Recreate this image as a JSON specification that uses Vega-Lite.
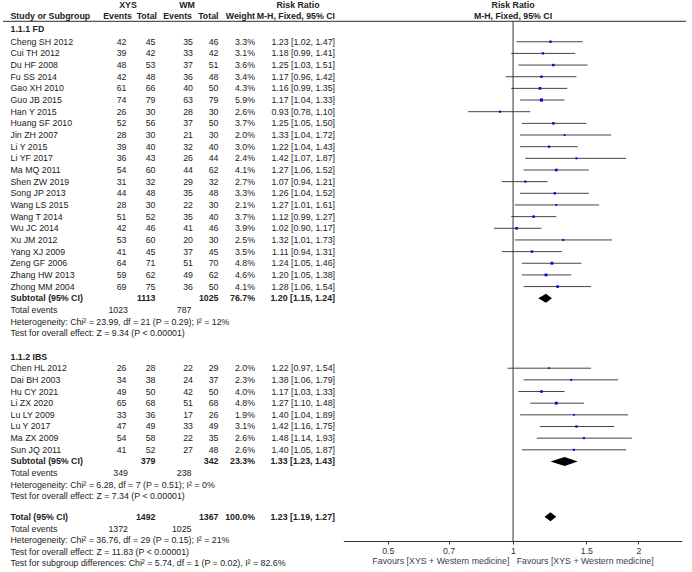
{
  "$schema": "https://vega.github.io/schema/vega-lite/v6.json",
  "width": 692,
  "height": 572,
  "autosize": {"type": "none"},
  "padding": 0,
  "background": "white",
  "config": {
    "view": {"stroke": null},
    "text": {"font": "Liberation Sans", "fontSize": 8.8, "color": "#222", "baseline": "middle"}
  },
  "datasets": {
    "studies": [
      {"s": "Cheng SH 2012", "row": 0, "e1": 42, "n1": 45, "e2": 35, "n2": 46, "w": 0.033, "rr": 1.23, "lo": 1.02, "hi": 1.47, "ci": "1.23 [1.02, 1.47]"},
      {"s": "Cui TH 2012", "row": 1, "e1": 39, "n1": 42, "e2": 33, "n2": 42, "w": 0.031, "rr": 1.18, "lo": 0.99, "hi": 1.41, "ci": "1.18 [0.99, 1.41]"},
      {"s": "Du HF 2008", "row": 2, "e1": 48, "n1": 53, "e2": 37, "n2": 51, "w": 0.036, "rr": 1.25, "lo": 1.03, "hi": 1.51, "ci": "1.25 [1.03, 1.51]"},
      {"s": "Fu SS 2014", "row": 3, "e1": 42, "n1": 48, "e2": 36, "n2": 48, "w": 0.034, "rr": 1.17, "lo": 0.96, "hi": 1.42, "ci": "1.17 [0.96, 1.42]"},
      {"s": "Gao XH 2010", "row": 4, "e1": 61, "n1": 66, "e2": 40, "n2": 50, "w": 0.043, "rr": 1.16, "lo": 0.99, "hi": 1.35, "ci": "1.16 [0.99, 1.35]"},
      {"s": "Guo JB 2015", "row": 5, "e1": 74, "n1": 79, "e2": 63, "n2": 79, "w": 0.059, "rr": 1.17, "lo": 1.04, "hi": 1.33, "ci": "1.17 [1.04, 1.33]"},
      {"s": "Han Y 2015", "row": 6, "e1": 26, "n1": 30, "e2": 28, "n2": 30, "w": 0.026, "rr": 0.93, "lo": 0.78, "hi": 1.10, "ci": "0.93 [0.78, 1.10]"},
      {"s": "Huang SF 2010", "row": 7, "e1": 52, "n1": 56, "e2": 37, "n2": 50, "w": 0.037, "rr": 1.25, "lo": 1.05, "hi": 1.50, "ci": "1.25 [1.05, 1.50]"},
      {"s": "Jin ZH 2007", "row": 8, "e1": 28, "n1": 30, "e2": 21, "n2": 30, "w": 0.020, "rr": 1.33, "lo": 1.04, "hi": 1.72, "ci": "1.33 [1.04, 1.72]"},
      {"s": "Li Y 2015", "row": 9, "e1": 39, "n1": 40, "e2": 32, "n2": 40, "w": 0.030, "rr": 1.22, "lo": 1.04, "hi": 1.43, "ci": "1.22 [1.04, 1.43]"},
      {"s": "Li YF 2017", "row": 10, "e1": 36, "n1": 43, "e2": 26, "n2": 44, "w": 0.024, "rr": 1.42, "lo": 1.07, "hi": 1.87, "ci": "1.42 [1.07, 1.87]"},
      {"s": "Ma MQ 2011", "row": 11, "e1": 54, "n1": 60, "e2": 44, "n2": 62, "w": 0.041, "rr": 1.27, "lo": 1.06, "hi": 1.52, "ci": "1.27 [1.06, 1.52]"},
      {"s": "Shen ZW 2019", "row": 12, "e1": 31, "n1": 32, "e2": 29, "n2": 32, "w": 0.027, "rr": 1.07, "lo": 0.94, "hi": 1.21, "ci": "1.07 [0.94, 1.21]"},
      {"s": "Song JP 2013", "row": 13, "e1": 44, "n1": 48, "e2": 35, "n2": 48, "w": 0.033, "rr": 1.26, "lo": 1.04, "hi": 1.52, "ci": "1.26 [1.04, 1.52]"},
      {"s": "Wang LS 2015", "row": 14, "e1": 28, "n1": 30, "e2": 22, "n2": 30, "w": 0.021, "rr": 1.27, "lo": 1.01, "hi": 1.61, "ci": "1.27 [1.01, 1.61]"},
      {"s": "Wang T 2014", "row": 15, "e1": 51, "n1": 52, "e2": 35, "n2": 40, "w": 0.037, "rr": 1.12, "lo": 0.99, "hi": 1.27, "ci": "1.12 [0.99, 1.27]"},
      {"s": "Wu JC 2014", "row": 16, "e1": 42, "n1": 46, "e2": 41, "n2": 46, "w": 0.039, "rr": 1.02, "lo": 0.90, "hi": 1.17, "ci": "1.02 [0.90, 1.17]"},
      {"s": "Xu JM 2012", "row": 17, "e1": 53, "n1": 60, "e2": 20, "n2": 30, "w": 0.025, "rr": 1.32, "lo": 1.01, "hi": 1.73, "ci": "1.32 [1.01, 1.73]"},
      {"s": "Yang XJ 2009", "row": 18, "e1": 41, "n1": 45, "e2": 37, "n2": 45, "w": 0.035, "rr": 1.11, "lo": 0.94, "hi": 1.31, "ci": "1.11 [0.94, 1.31]"},
      {"s": "Zeng GF 2006", "row": 19, "e1": 64, "n1": 71, "e2": 51, "n2": 70, "w": 0.048, "rr": 1.24, "lo": 1.05, "hi": 1.46, "ci": "1.24 [1.05, 1.46]"},
      {"s": "Zhang HW 2013", "row": 20, "e1": 59, "n1": 62, "e2": 49, "n2": 62, "w": 0.046, "rr": 1.20, "lo": 1.05, "hi": 1.38, "ci": "1.20 [1.05, 1.38]"},
      {"s": "Zhong MM 2004", "row": 21, "e1": 69, "n1": 75, "e2": 36, "n2": 50, "w": 0.041, "rr": 1.28, "lo": 1.06, "hi": 1.54, "ci": "1.28 [1.06, 1.54]"},
      {"s": "Chen HL 2012", "row": 28, "e1": 26, "n1": 28, "e2": 22, "n2": 29, "w": 0.020, "rr": 1.22, "lo": 0.97, "hi": 1.54, "ci": "1.22 [0.97, 1.54]"},
      {"s": "Dai BH 2003", "row": 29, "e1": 34, "n1": 38, "e2": 24, "n2": 37, "w": 0.023, "rr": 1.38, "lo": 1.06, "hi": 1.79, "ci": "1.38 [1.06, 1.79]"},
      {"s": "Hu CY 2021", "row": 30, "e1": 49, "n1": 50, "e2": 42, "n2": 50, "w": 0.040, "rr": 1.17, "lo": 1.03, "hi": 1.33, "ci": "1.17 [1.03, 1.33]"},
      {"s": "Li ZX 2020", "row": 31, "e1": 65, "n1": 68, "e2": 51, "n2": 68, "w": 0.048, "rr": 1.27, "lo": 1.10, "hi": 1.48, "ci": "1.27 [1.10, 1.48]"},
      {"s": "Lu LY 2009", "row": 32, "e1": 33, "n1": 36, "e2": 17, "n2": 26, "w": 0.019, "rr": 1.40, "lo": 1.04, "hi": 1.89, "ci": "1.40 [1.04, 1.89]"},
      {"s": "Lu Y 2017", "row": 33, "e1": 47, "n1": 49, "e2": 33, "n2": 49, "w": 0.031, "rr": 1.42, "lo": 1.16, "hi": 1.75, "ci": "1.42 [1.16, 1.75]"},
      {"s": "Ma ZX 2009", "row": 34, "e1": 54, "n1": 58, "e2": 22, "n2": 35, "w": 0.026, "rr": 1.48, "lo": 1.14, "hi": 1.93, "ci": "1.48 [1.14, 1.93]"},
      {"s": "Sun JQ 2011", "row": 35, "e1": 41, "n1": 52, "e2": 27, "n2": 48, "w": 0.026, "rr": 1.40, "lo": 1.05, "hi": 1.87, "ci": "1.40 [1.05, 1.87]"}
    ],
    "summary": [
      {"s": "Subtotal (95% CI)", "row": 22, "n1": 1113, "n2": 1025, "w": 0.767, "rr": 1.20, "lo": 1.15, "hi": 1.24, "ci": "1.20 [1.15, 1.24]"},
      {"s": "Subtotal (95% CI)", "row": 36, "n1": 379, "n2": 342, "w": 0.233, "rr": 1.33, "lo": 1.23, "hi": 1.43, "ci": "1.33 [1.23, 1.43]"},
      {"s": "Total (95% CI)", "row": 40.75, "n1": 1492, "n2": 1367, "w": 1.0, "rr": 1.23, "lo": 1.19, "hi": 1.27, "ci": "1.23 [1.19, 1.27]"}
    ],
    "events": [
      {"row": 23, "e1": 1023, "e2": 787},
      {"row": 37, "e1": 349, "e2": 238},
      {"row": 41.75, "e1": 1372, "e2": 1025}
    ],
    "notes": [
      {"row": -1.05, "kind": "heading", "t": "1.1.1 FD"},
      {"row": 23, "kind": "note", "t": "Total events"},
      {"row": 24, "kind": "note", "t": "Heterogeneity: Chi² = 23.99, df = 21 (P = 0.29); I² = 12%"},
      {"row": 25, "kind": "note", "t": "Test for overall effect: Z = 9.34 (P < 0.00001)"},
      {"row": 27, "kind": "heading", "t": "1.1.2 IBS"},
      {"row": 37, "kind": "note", "t": "Total events"},
      {"row": 38, "kind": "note", "t": "Heterogeneity: Chi² = 6.28, df = 7 (P = 0.51); I² = 0%"},
      {"row": 39, "kind": "note", "t": "Test for overall effect: Z = 7.34 (P < 0.00001)"},
      {"row": 41.75, "kind": "note", "t": "Total events"},
      {"row": 42.75, "kind": "note", "t": "Heterogeneity: Chi² = 36.76, df = 29 (P = 0.15); I² = 21%"},
      {"row": 43.75, "kind": "note", "t": "Test for overall effect: Z = 11.83 (P < 0.00001)"},
      {"row": 44.75, "kind": "note", "t": "Test for subgroup differences: Chi² = 5.74, df = 1 (P = 0.02), I² = 82.6%"}
    ]
  },
  "encoding": {
    "y": {"field": "row", "type": "quantitative", "scale": {"domain": [-3.58, 45.48], "reverse": true, "nice": false, "zero": false}, "axis": null}
  },
  "layer": [
    {
      "data": {"values": [{"row": -1.75}]},
      "mark": {"type": "rule", "color": "#555", "strokeWidth": 1.2},
      "encoding": {"x": {"value": 3}, "x2": {"value": 686}}
    },
    {
      "data": {"name": "studies"},
      "mark": {"type": "rule", "color": "#444", "strokeWidth": 1},
      "encoding": {
        "x": {"field": "lo", "type": "quantitative", "scale": {"type": "log", "domain": [0.391, 2.542], "range": [343.3, 681.7], "nice": false},
          "axis": {"values": [0.5, 0.7, 1, 1.5, 2], "format": "~g", "grid": false, "offset": -31, "ticks": true, "tickSize": 3, "tickWidth": 1, "tickColor": "#333", "domain": true, "domainWidth": 1, "domainColor": "#333", "labelFont": "Liberation Sans", "labelFontSize": 8.8, "labelColor": "#333", "labelPadding": 2, "labelFlush": false, "labelOverlap": false, "titleFont": "Liberation Sans", "titleFontSize": 8.8, "titleFontWeight": "normal", "titleColor": "#3c3c50", "titlePadding": 2,
            "title": "Favours [XYS + Western medicine]\u00a0\u00a0\u00a0Favours [XYS + Western medicine]"}},
        "x2": {"field": "hi"}
      }
    },
    {
      "data": {"values": [{"row": -1.75, "end": 42.82}]},
      "mark": {"type": "rule", "color": "#333", "strokeWidth": 1},
      "encoding": {
        "x": {"datum": 1, "type": "quantitative", "scale": {"type": "log", "domain": [0.391, 2.542], "range": [343.3, 681.7], "nice": false},
          "axis": {"values": [0.5, 0.7, 1, 1.5, 2], "format": "~g", "grid": false, "offset": -31, "ticks": true, "tickSize": 3, "tickWidth": 1, "tickColor": "#333", "domain": true, "domainWidth": 1, "domainColor": "#333", "labelFont": "Liberation Sans", "labelFontSize": 8.8, "labelColor": "#333", "labelPadding": 2, "labelFlush": false, "labelOverlap": false, "titleFont": "Liberation Sans", "titleFontSize": 8.8, "titleFontWeight": "normal", "titleColor": "#3c3c50", "titlePadding": 2,
            "title": "Favours [XYS + Western medicine]\u00a0\u00a0\u00a0Favours [XYS + Western medicine]"}},
        "y2": {"field": "end"}
      }
    },
    {
      "data": {"name": "studies"},
      "mark": {"type": "square", "color": "#0000ee", "opacity": 1},
      "encoding": {
        "x": {"field": "rr", "type": "quantitative", "scale": {"type": "log", "domain": [0.391, 2.542], "range": [343.3, 681.7], "nice": false},
          "axis": {"values": [0.5, 0.7, 1, 1.5, 2], "format": "~g", "grid": false, "offset": -31, "ticks": true, "tickSize": 3, "tickWidth": 1, "tickColor": "#333", "domain": true, "domainWidth": 1, "domainColor": "#333", "labelFont": "Liberation Sans", "labelFontSize": 8.8, "labelColor": "#333", "labelPadding": 2, "labelFlush": false, "labelOverlap": false, "titleFont": "Liberation Sans", "titleFontSize": 8.8, "titleFontWeight": "normal", "titleColor": "#3c3c50", "titlePadding": 2,
            "title": "Favours [XYS + Western medicine]\u00a0\u00a0\u00a0Favours [XYS + Western medicine]"}},
        "size": {"field": "w", "type": "quantitative", "scale": {"domain": [0, 0.06], "range": [0, 10]}, "legend": null}
      }
    },
    {
      "data": {"name": "summary"},
      "transform": [{"fold": ["lo", "rr", "hi"], "as": ["k", "v"]}],
      "mark": {"type": "area", "color": "#000", "yOffset": {"expr": "datum.k === 'rr' ? -4.5 : 0"}, "y2Offset": {"expr": "datum.k === 'rr' ? 4.5 : 0"}},
      "encoding": {
        "x": {"field": "v", "type": "quantitative", "scale": {"type": "log", "domain": [0.391, 2.542], "range": [343.3, 681.7], "nice": false},
          "axis": {"values": [0.5, 0.7, 1, 1.5, 2], "format": "~g", "grid": false, "offset": -31, "ticks": true, "tickSize": 3, "tickWidth": 1, "tickColor": "#333", "domain": true, "domainWidth": 1, "domainColor": "#333", "labelFont": "Liberation Sans", "labelFontSize": 8.8, "labelColor": "#333", "labelPadding": 2, "labelFlush": false, "labelOverlap": false, "titleFont": "Liberation Sans", "titleFontSize": 8.8, "titleFontWeight": "normal", "titleColor": "#3c3c50", "titlePadding": 2,
            "title": "Favours [XYS + Western medicine]\u00a0\u00a0\u00a0Favours [XYS + Western medicine]"}},
        "y2": {"field": "row"},
        "detail": {"field": "row", "type": "nominal"}
      }
    },
    {
      "data": {"values": [{"row": -3.15, "t": "XYS"}]},
      "mark": {"type": "text", "fontWeight": "bold", "align": "center"},
      "encoding": {"x": {"value": 128}, "text": {"field": "t"}}
    },
    {
      "data": {"values": [{"row": -3.15, "t": "WM"}]},
      "mark": {"type": "text", "fontWeight": "bold", "align": "center"},
      "encoding": {"x": {"value": 187}, "text": {"field": "t"}}
    },
    {
      "data": {"values": [{"row": -3.15, "t": "Risk Ratio"}]},
      "mark": {"type": "text", "fontWeight": "bold", "align": "center"},
      "encoding": {"x": {"value": 298}, "text": {"field": "t"}}
    },
    {
      "data": {"values": [{"row": -3.15, "t": "Risk Ratio"}, {"row": -2.2, "t": "M-H, Fixed, 95% CI"}]},
      "mark": {"type": "text", "fontWeight": "bold", "align": "center"},
      "encoding": {
        "x": {"datum": 1, "type": "quantitative", "scale": {"type": "log", "domain": [0.391, 2.542], "range": [343.3, 681.7], "nice": false},
          "axis": {"values": [0.5, 0.7, 1, 1.5, 2], "format": "~g", "grid": false, "offset": -31, "ticks": true, "tickSize": 3, "tickWidth": 1, "tickColor": "#333", "domain": true, "domainWidth": 1, "domainColor": "#333", "labelFont": "Liberation Sans", "labelFontSize": 8.8, "labelColor": "#333", "labelPadding": 2, "labelFlush": false, "labelOverlap": false, "titleFont": "Liberation Sans", "titleFontSize": 8.8, "titleFontWeight": "normal", "titleColor": "#3c3c50", "titlePadding": 2,
            "title": "Favours [XYS + Western medicine]\u00a0\u00a0\u00a0Favours [XYS + Western medicine]"}},
        "text": {"field": "t"}
      }
    },
    {
      "data": {"values": [{"row": -2.2, "t": "Study or Subgroup"}]},
      "mark": {"type": "text", "fontWeight": "bold", "align": "left"},
      "encoding": {"x": {"value": 10.5}, "text": {"field": "t"}}
    },
    {
      "data": {"values": [{"row": -2.2, "t": "Events"}]},
      "mark": {"type": "text", "fontWeight": "bold", "align": "right"},
      "encoding": {"x": {"value": 132}, "text": {"field": "t"}}
    },
    {
      "data": {"values": [{"row": -2.2, "t": "Total"}]},
      "mark": {"type": "text", "fontWeight": "bold", "align": "right"},
      "encoding": {"x": {"value": 157}, "text": {"field": "t"}}
    },
    {
      "data": {"values": [{"row": -2.2, "t": "Events"}]},
      "mark": {"type": "text", "fontWeight": "bold", "align": "right"},
      "encoding": {"x": {"value": 192}, "text": {"field": "t"}}
    },
    {
      "data": {"values": [{"row": -2.2, "t": "Total"}]},
      "mark": {"type": "text", "fontWeight": "bold", "align": "right"},
      "encoding": {"x": {"value": 218.5}, "text": {"field": "t"}}
    },
    {
      "data": {"values": [{"row": -2.2, "t": "Weight"}]},
      "mark": {"type": "text", "fontWeight": "bold", "align": "right"},
      "encoding": {"x": {"value": 255}, "text": {"field": "t"}}
    },
    {
      "data": {"values": [{"row": -2.2, "t": "M-H, Fixed, 95% CI"}]},
      "mark": {"type": "text", "fontWeight": "bold", "align": "right"},
      "encoding": {"x": {"value": 335}, "text": {"field": "t"}}
    },
    {
      "data": {"name": "studies"},
      "mark": {"type": "text", "align": "left"},
      "encoding": {"x": {"value": 10.5}, "text": {"field": "s"}}
    },
    {
      "data": {"name": "studies"},
      "mark": {"type": "text", "align": "right"},
      "encoding": {"x": {"value": 126.5}, "text": {"field": "e1"}}
    },
    {
      "data": {"name": "studies"},
      "mark": {"type": "text", "align": "right"},
      "encoding": {"x": {"value": 155.5}, "text": {"field": "n1"}}
    },
    {
      "data": {"name": "studies"},
      "mark": {"type": "text", "align": "right"},
      "encoding": {"x": {"value": 193}, "text": {"field": "e2"}}
    },
    {
      "data": {"name": "studies"},
      "mark": {"type": "text", "align": "right"},
      "encoding": {"x": {"value": 218.5}, "text": {"field": "n2"}}
    },
    {
      "data": {"name": "studies"},
      "mark": {"type": "text", "align": "right"},
      "encoding": {"x": {"value": 255}, "text": {"field": "w", "format": ".1%"}}
    },
    {
      "data": {"name": "studies"},
      "mark": {"type": "text", "align": "right"},
      "encoding": {"x": {"value": 335}, "text": {"field": "ci"}}
    },
    {
      "data": {"name": "summary"},
      "mark": {"type": "text", "align": "left", "fontWeight": "bold"},
      "encoding": {"x": {"value": 10.5}, "text": {"field": "s"}}
    },
    {
      "data": {"name": "summary"},
      "mark": {"type": "text", "align": "right", "fontWeight": "bold"},
      "encoding": {"x": {"value": 155.5}, "text": {"field": "n1"}}
    },
    {
      "data": {"name": "summary"},
      "mark": {"type": "text", "align": "right", "fontWeight": "bold"},
      "encoding": {"x": {"value": 218.5}, "text": {"field": "n2"}}
    },
    {
      "data": {"name": "summary"},
      "mark": {"type": "text", "align": "right", "fontWeight": "bold"},
      "encoding": {"x": {"value": 255}, "text": {"field": "w", "format": ".1%"}}
    },
    {
      "data": {"name": "summary"},
      "mark": {"type": "text", "align": "right", "fontWeight": "bold"},
      "encoding": {"x": {"value": 335}, "text": {"field": "ci"}}
    },
    {
      "data": {"name": "events"},
      "mark": {"type": "text", "align": "right"},
      "encoding": {"x": {"value": 128}, "text": {"field": "e1"}}
    },
    {
      "data": {"name": "events"},
      "mark": {"type": "text", "align": "right"},
      "encoding": {"x": {"value": 191.5}, "text": {"field": "e2"}}
    },
    {
      "data": {"name": "notes"},
      "transform": [{"filter": "datum.kind === 'heading'"}],
      "mark": {"type": "text", "align": "left", "fontWeight": "bold"},
      "encoding": {"x": {"value": 10.5}, "text": {"field": "t"}}
    },
    {
      "data": {"name": "notes"},
      "transform": [{"filter": "datum.kind === 'note'"}],
      "mark": {"type": "text", "align": "left"},
      "encoding": {"x": {"value": 10.5}, "text": {"field": "t"}}
    }
  ]
}
